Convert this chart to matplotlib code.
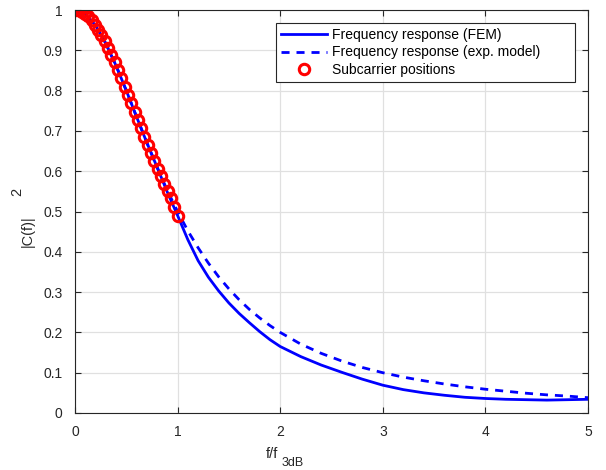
import numpy as np
import matplotlib
matplotlib.use('Agg')
import matplotlib.pyplot as plt

plt.rcParams['font.family'] = ['Liberation Sans', 'DejaVu Sans']

# frequency axis (f/f3dB) for the two response curves
f_norm = [0.0, 0.1, 0.2, 0.3, 0.4, 0.5, 0.6, 0.7, 0.8, 0.9, 1.0,
          1.1, 1.2, 1.3, 1.4, 1.5, 1.6, 1.7, 1.8, 1.9, 2.0,
          2.2, 2.4, 2.6, 2.8, 3.0, 3.2, 3.4, 3.6, 3.8, 4.0,
          4.2, 4.4, 4.6, 4.8, 5.0]
# |C(f)|^2 from FEM
resp_fem = [1.0, 0.99, 0.962, 0.917, 0.862, 0.8, 0.735, 0.671, 0.61, 0.548, 0.49,
            0.43, 0.378, 0.337, 0.303, 0.273, 0.247, 0.224, 0.202, 0.182, 0.165,
            0.14, 0.119, 0.101, 0.084, 0.069, 0.058, 0.05, 0.044, 0.039, 0.036,
            0.034, 0.033, 0.032, 0.033, 0.034]
# |C(f)|^2 from exponential model
resp_exp = [1.0, 0.99, 0.962, 0.917, 0.862, 0.8, 0.735, 0.671, 0.61, 0.552, 0.5,
            0.452, 0.41, 0.372, 0.338, 0.308, 0.281, 0.257, 0.236, 0.217, 0.2,
            0.171, 0.148, 0.129, 0.113, 0.1, 0.089, 0.08, 0.072, 0.065, 0.059,
            0.054, 0.049, 0.045, 0.042, 0.038]

# subcarrier positions
sc_f = [0.0, 0.032, 0.065, 0.097, 0.129, 0.161, 0.194, 0.226, 0.258, 0.29,
        0.323, 0.355, 0.387, 0.419, 0.452, 0.484, 0.516, 0.548, 0.581, 0.613,
        0.645, 0.677, 0.71, 0.742, 0.774, 0.806, 0.839, 0.871, 0.903, 0.935,
        0.968, 1.0]
sc_resp = [1.0, 0.999, 0.996, 0.991, 0.984, 0.975, 0.964, 0.951, 0.938, 0.922,
           0.906, 0.888, 0.87, 0.851, 0.831, 0.81, 0.79, 0.769, 0.748, 0.727,
           0.706, 0.686, 0.665, 0.645, 0.625, 0.606, 0.587, 0.569, 0.551, 0.533,
           0.512, 0.49]

W, H = 606, 470
fig = plt.figure(figsize=(W / 100, H / 100), dpi=100)
ax = fig.add_axes([75 / W, 57 / H, 513 / W, 403 / H])

ax.plot(f_norm, resp_fem, color='#0000ff', lw=2.0, label='Frequency response (FEM)')
ax.plot(f_norm, resp_exp, color='#0000ff', lw=2.0, dashes=(2.9, 2.5),
        label='Frequency response (exp. model)')
ax.plot(sc_f, sc_resp, 'o', color='#ff0000', mfc='none', ms=7.5, mew=2.2,
        label='Subcarrier positions')

ax.set_xlim(0, 5)
ax.set_ylim(0, 1)
ax.set_xticks(np.arange(0, 6, 1))
ax.set_yticks(np.arange(0, 1.01, 0.1))
ax.set_yticklabels(['0', '0.1', '0.2', '0.3', '0.4', '0.5', '0.6', '0.7', '0.8', '0.9', '1'])
ax.grid(True, color='#e0e0e0', lw=0.9)
ax.set_axisbelow(True)
ax.tick_params(direction='in', length=4, width=0.8, top=True, right=True,
               labelsize=10, colors='#262626')
ax.tick_params(axis='x', pad=8.5)
ax.tick_params(axis='y', pad=9)
for s in ax.spines.values():
    s.set_color('#262626')
    s.set_linewidth(0.8)

# axis labels drawn in pieces like the original
fig.text(272.5 / W, 1 - 454 / H, 'f/f', fontsize=10.5, color='#262626', ha='center', va='center')
fig.text(293 / W, 1 - 462.5 / H, '3dB', fontsize=9, color='#262626', ha='center', va='center')
fig.text(28 / W, 1 - 231 / H, '|C(f)|', fontsize=10.5, color='#262626', rotation=90,
         ha='center', va='center')
fig.text(17 / W, 1 - 192 / H, '2', fontsize=10.5, color='#262626', rotation=90,
         ha='center', va='center')

leg = ax.legend(loc='upper left', bbox_to_anchor=(276 / W, 1 - 81.7 / H, 299 / W, 58.4 / H),
                bbox_transform=fig.transFigure, mode='expand', fontsize=10,
                fancybox=False, framealpha=1, edgecolor='#262626', handlelength=3.33,
                borderpad=0.35, labelspacing=0.24, handletextpad=0.34,
                borderaxespad=0)
leg.get_frame().set_linewidth(0.8)

fig.savefig('out.png', dpi=100)
